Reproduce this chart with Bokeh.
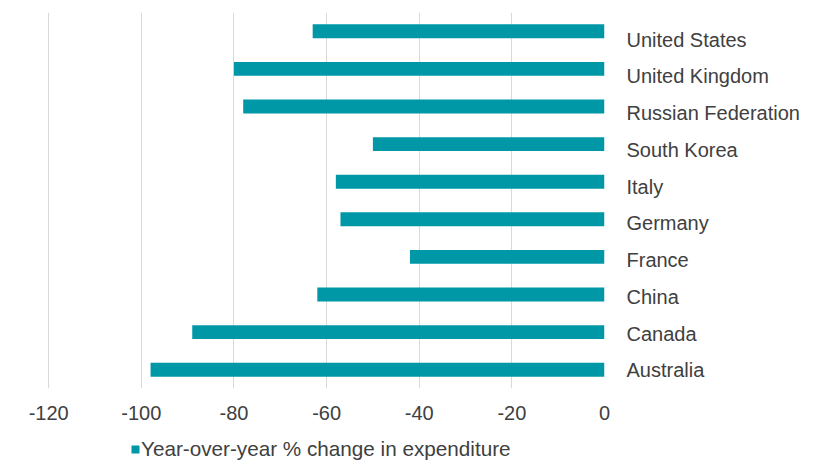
from bokeh.plotting import figure
from bokeh.layouts import column
from bokeh.models import (ColumnDataSource, Range1d, Legend, LegendItem,
                          FixedTicker, LinearAxis)
from bokeh.embed import file_html
from bokeh.resources import INLINE

countries = ["United States", "United Kingdom", "Russian Federation", "South Korea",
             "Italy", "Germany", "France", "China", "Canada", "Australia"]
changes = [-63, -80, -78, -50, -58, -57, -42, -62, -89, -98]
x_ticks = [-120, -100, -80, -60, -40, -20, 0]
x_tick_labels = ["-120", "-100", "-80", "-60", "-40", "-20", "0"]
series_name = "Year-over-year % change in expenditure"

n = len(countries)
# first category at the top: row index counted from the bottom
rows = [n - 1 - i for i in range(n)]
source = ColumnDataSource(dict(country=countries, change=changes, row=rows))

FONT = "Liberation Sans"
TEXT = "#404040"
BAR = "#0097a7"

p = figure(width=830, height=438,
           y_range=Range1d(-0.5, n - 0.5),
           x_range=Range1d(-120.25, 0),
           y_axis_location=None,
           output_backend="svg", toolbar_location=None,
           min_border_left=47, min_border_right=226,
           min_border_top=12, min_border_bottom=50)
p.outline_line_color = None
p.background_fill_color = "white"
p.border_fill_color = "white"

r = p.hbar(y="row", left=0, right="change", height=0.37, source=source,
           fill_color=BAR, line_color=None)

# category labels on the right (Excel places them slightly lower than the bar centres)
p.extra_y_ranges = {"labels": Range1d(-0.49, 9.74)}
lab_axis = LinearAxis(y_range_name="labels",
                      ticker=FixedTicker(ticks=rows),
                      major_label_overrides={rw: c for rw, c in zip(rows, countries)})
p.add_layout(lab_axis, "right")

p.xaxis.ticker = FixedTicker(ticks=x_ticks)
p.xaxis.major_label_overrides = {t: s for t, s in zip(x_ticks, x_tick_labels)}
for ax in p.axis:
    ax.axis_line_color = None
    ax.major_tick_line_color = None
    ax.minor_tick_line_color = None
    ax.major_tick_out = 0
    ax.major_tick_in = 0
    ax.minor_tick_out = 0
    ax.minor_tick_in = 0
    ax.major_label_text_font = FONT
    ax.major_label_text_color = TEXT
    ax.major_label_text_font_size = "20px"
p.xaxis.major_label_standoff = 17
lab_axis.major_label_standoff = 22

p.xgrid.grid_line_color = "#d9d9d9"
p.xgrid.grid_line_width = 1
p.ygrid.grid_line_color = None

# legend strip beneath the chart (its frame is aligned with the chart's frame)
leg = figure(width=830, height=23, x_axis_location=None, y_axis_location=None,
             output_backend="svg", toolbar_location=None, min_border=0,
             x_range=Range1d(0, 1), y_range=Range1d(0, 1))
leg.outline_line_color = None
leg.xgrid.grid_line_color = None
leg.ygrid.grid_line_color = None
# swatch renderer kept outside the visible range; only its legend entry shows
swatch = leg.hbar(y=[5], left=[4], right=[5], height=1, fill_color=BAR, line_color=None)
legend = Legend(items=[LegendItem(label=series_name, renderers=[swatch])],
                location=(83, 0), orientation="horizontal",
                margin=0, padding=0, border_line_color=None,
                background_fill_alpha=0,
                glyph_width=10, glyph_height=10, label_standoff=1,
                label_height=20,
                label_text_font=FONT, label_text_color=TEXT,
                label_text_font_size="20.7px")
leg.add_layout(legend, "center")

layout = column(p, leg, spacing=0)
open("out.html", "w").write(file_html(layout, INLINE))
